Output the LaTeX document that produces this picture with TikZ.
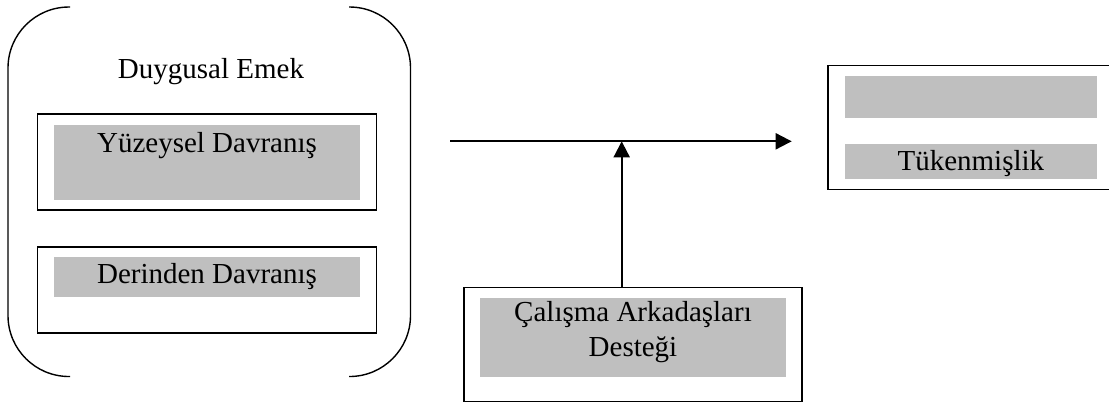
\documentclass[tikz,border=0pt]{standalone}
\usepackage{fontspec}
\setmainfont{Liberation Serif}
\usetikzlibrary{arrows.meta}
\definecolor{shade}{HTML}{BFBFBF}
\begin{document}
\begin{tikzpicture}[x=0.5pt,y=-0.5pt,
  frame/.style={draw=black,line width=0.75pt,fill=white,inner sep=0pt},
  grayband/.style={fill=shade,draw=none,inner sep=0pt},
  txt/.style={anchor=base,inner sep=0pt,font=\fontsize{14.5pt}{17.4pt}\selectfont},
  bracket/.style={line width=0.7pt,rounded corners=30.5pt},
  conn/.style={line width=1pt,-{Triangle[length=8pt,width=8pt]}}]
\useasboundingbox (0,0) rectangle (1109,404);
\clip (0,0) rectangle (1109,404);
% bracket enclosing Duygusal Emek
\draw[bracket] (70,7) -- (8,7) -- (8,376.5) -- (70,376.5);
\draw[bracket] (349,7) -- (410.5,7) -- (410.5,376.5) -- (349,376.5);
\node[txt] (emek) at (211,78) {Duygusal Emek};
% Yuzeysel
\node[frame,minimum width=169.5pt,minimum height=48pt] (yuzB) at (207.2,162) {};
\node[grayband,minimum width=153pt,minimum height=37.5pt] (yuzG) at (207,162.5) {};
\node[txt] (yuzT) at (207,152.3) {Yüzeysel Davranış};
% Derinden
\node[frame,minimum width=169.5pt,minimum height=43pt] (derB) at (207.2,290) {};
\node[grayband,minimum width=153pt,minimum height=20pt] (derG) at (207,277) {};
\node[txt] (derT) at (207,283.3) {Derinden Davranış};
% Calisma
\node[frame,minimum width=169pt,minimum height=57pt] (calB) at (633,344.5) {};
\node[grayband,minimum width=153pt,minimum height=39.5pt] (calG) at (633,337.5) {};
\node[txt] (calT1) at (633,321.7) {Çalışma Arkadaşları};
\node[txt] (calT2) at (633,356) {Desteği};
% Tukenmislik
\node[frame,minimum width=144pt,minimum height=61.8pt] (tukB) at (972,127.5) {};
\node[grayband,minimum width=125.85pt,minimum height=20.85pt] (tukG1) at (970.85,96.85) {};
\node[grayband,minimum width=125.85pt,minimum height=17.65pt] (tukG2) at (970.85,161.65) {};
\node[txt] (tukT) at (970.85,170) {Tükenmişlik};
% connectors
\coordinate (hstart) at (450,141.3);
\coordinate (hend) at (791.7,141.3);
\coordinate (vtop) at (621.7,141.3);
\draw[conn] (hstart) -- (hend);
\draw[conn] (calB.north -| vtop) -- (vtop);
\end{tikzpicture}
\end{document}
